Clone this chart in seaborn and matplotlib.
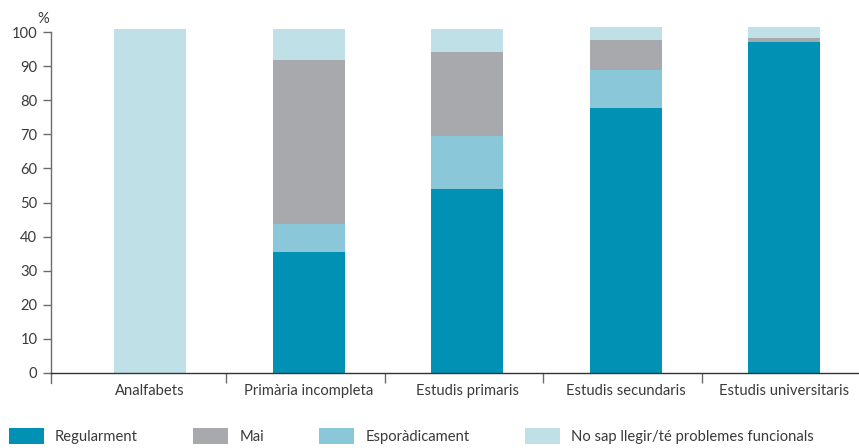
import numpy as np
import matplotlib
matplotlib.use("Agg")
import matplotlib.pyplot as plt
from matplotlib.patches import Patch
import seaborn as sns

# values (%)
categories = [
    "Analfabets",
    "Primària incompleta",
    "Estudis primaris",
    "Estudis secundaris",
    "Estudis universitaris",
]
regularment = [0.0, 35.6, 54.0, 77.7, 97.1]
esporadicament = [0.0, 8.1, 15.5, 11.2, 0.0]
mai = [0.0, 48.1, 24.6, 8.8, 1.2]
no_sap = [100.9, 9.1, 6.8, 3.8, 3.3]

series_names = [
    "Regularment",
    "Mai",
    "Esporàdicament",
    "No sap llegir/té problemes funcionals",
]
y_ticks = [0, 10, 20, 30, 40, 50, 60, 70, 80, 90, 100]

COL_REG = "#0191B4"
COL_MAI = "#A8A9AD"
COL_ESP = "#8AC8D9"
COL_NOSAP = "#C0E0E8"
TEXT = "#3a3a3a"
AXIS = "#6b6b6b"
FS = 10.6


def draw_chart():

    sns.set_style("white")
    plt.rcParams["font.family"] = ["Lato", "DejaVu Sans"]

    fig = plt.figure(figsize=(8.59, 4.48), dpi=100)
    ax = fig.add_axes([0.0594, 0.1446, 0.9406, 0.822])

    reg = np.array(regularment)
    esp = np.array(esporadicament)
    mai_v = np.array(mai)
    nos = np.array(no_sap)

    # stacked bars: draw cumulative totals from the top layer down
    layers = [
        (reg + esp + mai_v + nos, COL_NOSAP),
        (reg + esp + mai_v, COL_MAI),
        (reg + esp, COL_ESP),
        (reg, COL_REG),
    ]
    for values, colour in layers:
        sns.barplot(
            x=categories,
            y=values,
            order=categories,
            color=colour,
            saturation=1,
            width=0.454,
            linewidth=0,
            ax=ax,
        )

    ax.set_xlim(-0.625, 4.47)
    ax.set_ylim(-3, 105)
    ax.set_xlabel("")
    ax.set_ylabel("")

    for side in ["top", "right"]:
        ax.spines[side].set_visible(False)
    ax.spines["left"].set_bounds(-3, 100)
    ax.spines["left"].set_color(AXIS)
    ax.spines["left"].set_linewidth(1.0)
    ax.spines["bottom"].set_position(("data", 0))
    ax.spines["bottom"].set_color("#333333")
    ax.spines["bottom"].set_linewidth(1.0)

    ax.set_yticks(y_ticks)
    ax.tick_params(
        axis="y", length=5.8, width=1.0, color=AXIS,
        labelsize=FS, labelcolor=TEXT, pad=4, left=True,
    )
    ax.set_xticks(range(len(categories)))
    ax.set_xticklabels(categories)
    ax.tick_params(
        axis="x", which="major", length=0,
        labelsize=FS, labelcolor=TEXT, pad=8,
    )
    ax.set_xticks([i + 0.48 for i in range(4)], minor=True)
    ax.tick_params(
        axis="x", which="minor", length=7.2, width=1.0,
        color=AXIS, direction="out", bottom=True,
    )

    fig.text(0.050, 0.958, "%", ha="center", va="center",
             fontsize=FS, color=TEXT)

    handles = [
        Patch(facecolor=COL_REG, edgecolor="none"),
        Patch(facecolor=COL_MAI, edgecolor="none"),
        Patch(facecolor=COL_ESP, edgecolor="none"),
        Patch(facecolor=COL_NOSAP, edgecolor="none"),
    ]
    fig.legend(
        handles,
        series_names,
        loc="upper left",
        bbox_to_anchor=(0.0105, 0.044),
        ncol=4,
        frameon=False,
        borderpad=0,
        borderaxespad=0,
        fontsize=FS,
        labelcolor=TEXT,
        handlelength=2.38,
        handleheight=1.22,
        handletextpad=0.75,
        columnspacing=3.75,
    )

    fig.savefig("out.png", dpi=100)


if __name__ == "__main__":

    draw_chart()
